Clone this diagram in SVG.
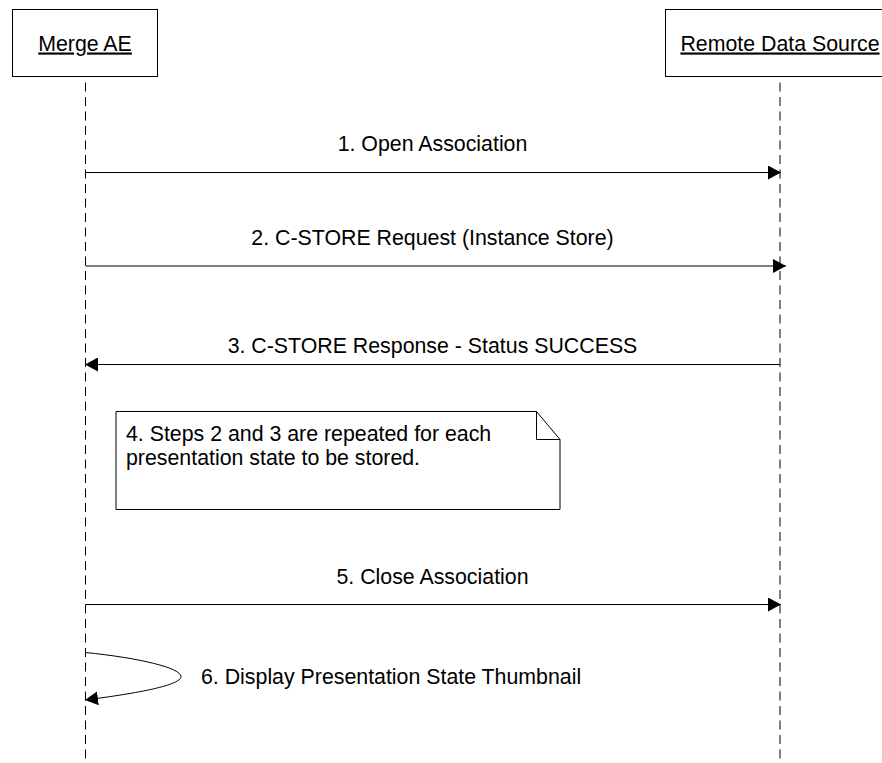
<svg xmlns="http://www.w3.org/2000/svg" width="882" height="763" viewBox="0 0 882 763">
<defs>
<style>
text{font-family:"Liberation Sans",Arial,sans-serif;font-size:21.33px;fill:#000}
.box{fill:#fff;stroke:#000;stroke-width:1}
.life{stroke:#000;stroke-width:1;stroke-dasharray:9 5.5;fill:none}
.msg{stroke:#000;stroke-width:1;fill:none}
.c{text-anchor:middle}
</style>
<marker id="ah" markerUnits="userSpaceOnUse" viewBox="0 0 13 14" refX="13" refY="7" markerWidth="13" markerHeight="14" orient="auto">
<path d="M0,0 L13,7 L0,14 z" fill="#000"/>
</marker>
</defs>
<rect width="882" height="763" fill="#fff"/>
<g id="merge-ae">
<rect class="box" x="12.5" y="9.5" width="145" height="67"/>
<text class="c" x="85" y="50.5" text-decoration="underline">Merge AE</text>
<line class="life" x1="85.5" y1="82.5" x2="85.5" y2="763"/>
</g>
<g id="remote-data-source">
<rect class="box" x="665.5" y="9.5" width="230" height="67"/>
<text class="c" x="780" y="50.5" text-decoration="underline">Remote Data Source</text>
<line class="life" x1="780" y1="82.5" x2="780" y2="763"/>
</g>
<g id="note">
<path class="box" d="M116,411.5 H536.5 L560,439.5 V509.5 H116 Z"/>
<path class="msg" d="M536.5,411.5 V439.5 H560"/>
<text x="126" y="441">4. Steps 2 and 3 are repeated for each</text>
<text x="126" y="464.5">presentation state to be stored.</text>
</g>
<g id="connectors">
<line class="msg" x1="85.5" y1="172.5" x2="781" y2="172.5" marker-end="url(#ah)"/>
<text class="c" x="432.5" y="151">1. Open Association</text>
<line class="msg" x1="85.5" y1="266" x2="786" y2="266" marker-end="url(#ah)"/>
<text class="c" x="432.5" y="244.5">2. C-STORE Request (Instance Store)</text>
<line class="msg" x1="780" y1="364.5" x2="85" y2="364.5" marker-end="url(#ah)"/>
<text class="c" x="432.5" y="352.5">3. C-STORE Response - Status SUCCESS</text>
<line class="msg" x1="85.5" y1="604.5" x2="781" y2="604.5" marker-end="url(#ah)"/>
<text class="c" x="432.5" y="583.5">5. Close Association</text>
<path class="msg" d="M85.5,652.5 C140,658 181,668 181,676.5 C181,685 140,693 85,700" marker-end="url(#ah)"/>
<text x="201" y="683.5">6. Display Presentation State Thumbnail</text>
</g>
</svg>
